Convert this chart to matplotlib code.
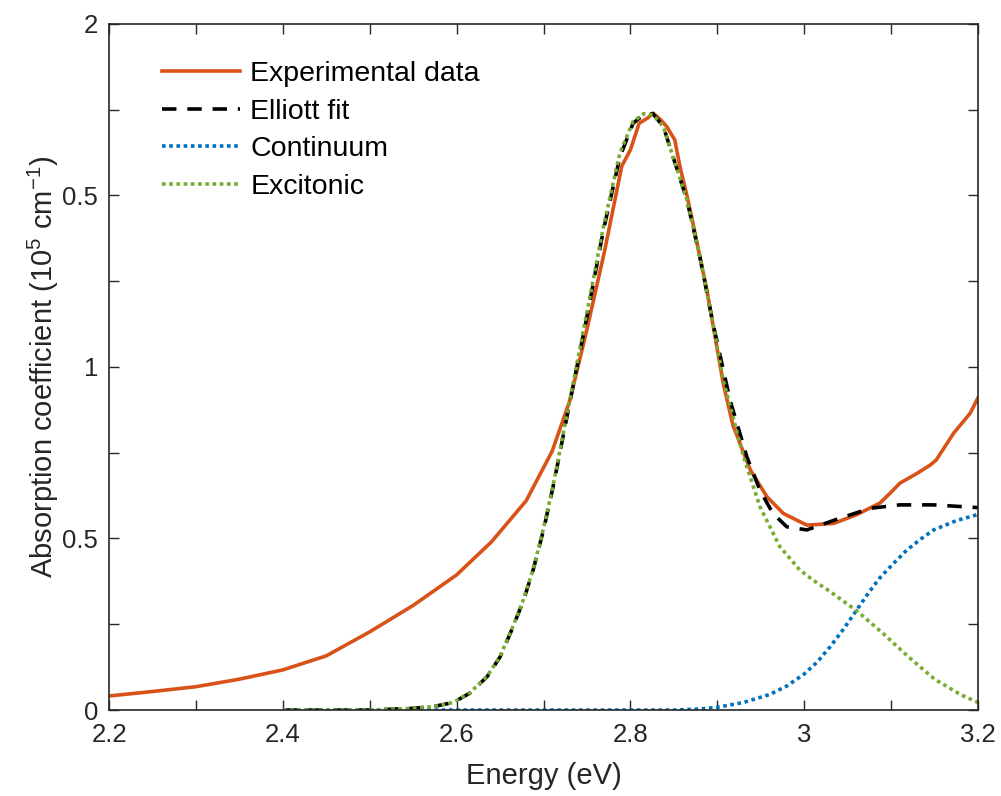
import numpy as np
import matplotlib
matplotlib.use("Agg")
import matplotlib.pyplot as plt

plt.rcParams['font.family'] = ['Liberation Sans', 'DejaVu Sans']
plt.rcParams['mathtext.fontset'] = 'custom'
plt.rcParams['mathtext.rm'] = 'Liberation Sans'

# experimental absorption spectrum
e_exp = [2.20, 2.25, 2.30, 2.35, 2.40, 2.45, 2.50, 2.55, 2.60, 2.64, 2.68, 2.71, 2.73,
         2.75, 2.77, 2.79, 2.80, 2.81, 2.82, 2.826, 2.835, 2.842, 2.851, 2.857, 2.865,
         2.872, 2.88, 2.888, 2.90, 2.907, 2.918, 2.938, 2.957, 2.976, 3.003, 3.034, 3.06,
         3.087, 3.10, 3.11, 3.13, 3.145, 3.152, 3.172, 3.191, 3.20]
a_exp = [0.041, 0.054, 0.068, 0.09, 0.117, 0.158, 0.228, 0.305, 0.394, 0.49, 0.61, 0.755, 0.90,
         1.11, 1.335, 1.585, 1.633, 1.71, 1.726, 1.74, 1.72, 1.70, 1.662, 1.584, 1.50,
         1.419, 1.32, 1.224, 1.05, 0.95, 0.83, 0.70, 0.622, 0.573, 0.539, 0.544, 0.569,
         0.603, 0.635, 0.661, 0.69, 0.714, 0.729, 0.807, 0.865, 0.91]

# Elliott fit
e_fit = [2.40, 2.50, 2.55, 2.573, 2.596, 2.615, 2.635, 2.65, 2.665, 2.677, 2.688, 2.70,
         2.711, 2.721, 2.73, 2.75, 2.769, 2.788, 2.803, 2.815, 2.826, 2.838, 2.849, 2.865,
         2.88, 2.895, 2.907, 2.915, 2.934, 2.949, 2.964, 2.98, 3.003, 3.041, 3.076, 3.11,
         3.149, 3.20]
a_fit = [0.0, 0.0, 0.005, 0.01, 0.022, 0.049, 0.097, 0.155, 0.243, 0.32, 0.408, 0.525,
         0.651, 0.778, 0.894, 1.147, 1.40, 1.613, 1.71, 1.735, 1.738, 1.70, 1.613, 1.487,
         1.32, 1.127, 0.99, 0.90, 0.738, 0.641, 0.573, 0.534, 0.525, 0.559, 0.588, 0.598,
         0.598, 0.59]

# continuum component
e_cont = [2.40, 2.85, 2.88, 2.90, 2.93, 2.96, 2.98, 3.00, 3.015, 3.03, 3.045, 3.06,
          3.075, 3.087, 3.10, 3.118, 3.135, 3.149, 3.175, 3.20]
a_cont = [0.0, 0.0, 0.003, 0.008, 0.022, 0.045, 0.07, 0.105, 0.14, 0.185, 0.235, 0.29,
          0.345, 0.385, 0.42, 0.466, 0.50, 0.525, 0.552, 0.57]

# excitonic component
e_exc = [2.40, 2.50, 2.55, 2.573, 2.596, 2.615, 2.635, 2.65, 2.665, 2.677, 2.688, 2.70,
         2.711, 2.721, 2.73, 2.75, 2.769, 2.788, 2.803, 2.815, 2.826, 2.838, 2.849, 2.865,
         2.88, 2.895, 2.907, 2.93, 2.949, 2.972, 2.995, 3.01, 3.03, 3.06, 3.09, 3.12,
         3.15, 3.18, 3.20]
a_exc = [0.0, 0.0, 0.005, 0.01, 0.022, 0.05, 0.098, 0.157, 0.245, 0.323, 0.41, 0.53,
         0.655, 0.785, 0.90, 1.16, 1.41, 1.625, 1.715, 1.738, 1.735, 1.70, 1.613, 1.487,
         1.32, 1.127, 0.96, 0.74, 0.593, 0.476, 0.408, 0.379, 0.345, 0.29, 0.225, 0.155,
         0.09, 0.045, 0.022]

xticks = [2.2, 2.3, 2.4, 2.5, 2.6, 2.7, 2.8, 2.9, 3.0, 3.1, 3.2]
xticklabels = ['2.2', '', '2.4', '', '2.6', '', '2.8', '', '3', '', '3.2']
yticks = [0, 0.25, 0.5, 0.75, 1.0, 1.25, 1.5, 1.75, 2.0]
yticklabels = ['0', '', '0.5', '', '1', '', '0.5', '', '2']

fig = plt.figure(figsize=(10.01, 7.96), dpi=100)
ax = fig.add_axes([0.109, 0.108, 0.868, 0.862])

ax.plot(e_exp, a_exp, color='#D95319', lw=2.6, label='Experimental data')
ax.plot(e_fit, a_fit, color='black', lw=2.6, ls=(0, (4, 3)), label='Elliott fit')
ax.plot(e_cont, a_cont, color='#0072BD', lw=2.6, ls=(0, (1, 1)), label='Continuum')
ax.plot(e_exc, a_exc, color='#77AC30', lw=2.6, ls=(0, (1, 1)), label='Excitonic')

ax.set_xlim(2.2, 3.2)
ax.set_ylim(0, 2)
ax.set_xticks(xticks)
ax.set_xticklabels(xticklabels)
ax.set_yticks(yticks)
ax.set_yticklabels(yticklabels)
ax.tick_params(direction='in', top=True, right=True, length=7, width=1,
               labelsize=18.5, colors='#262626')
ax.tick_params(axis='x', pad=9)
ax.tick_params(axis='y', pad=8)
for sp in ax.spines.values():
    sp.set_color('#262626')
    sp.set_linewidth(1.2)

ax.set_xlabel('Energy (eV)', fontsize=21, color='#262626', labelpad=11)
ax.set_ylabel(r'Absorption coefficient (10$^5$ cm$^{-1}$)', fontsize=21,
              color='#262626', labelpad=1)

ax.legend(loc='upper left', frameon=False, fontsize=20.5, handlelength=2.75,
          handletextpad=0.35, labelspacing=0.41, borderaxespad=0.0, borderpad=0.0,
          bbox_to_anchor=(0.061, 0.946))

fig.savefig('out.png', dpi=100)
